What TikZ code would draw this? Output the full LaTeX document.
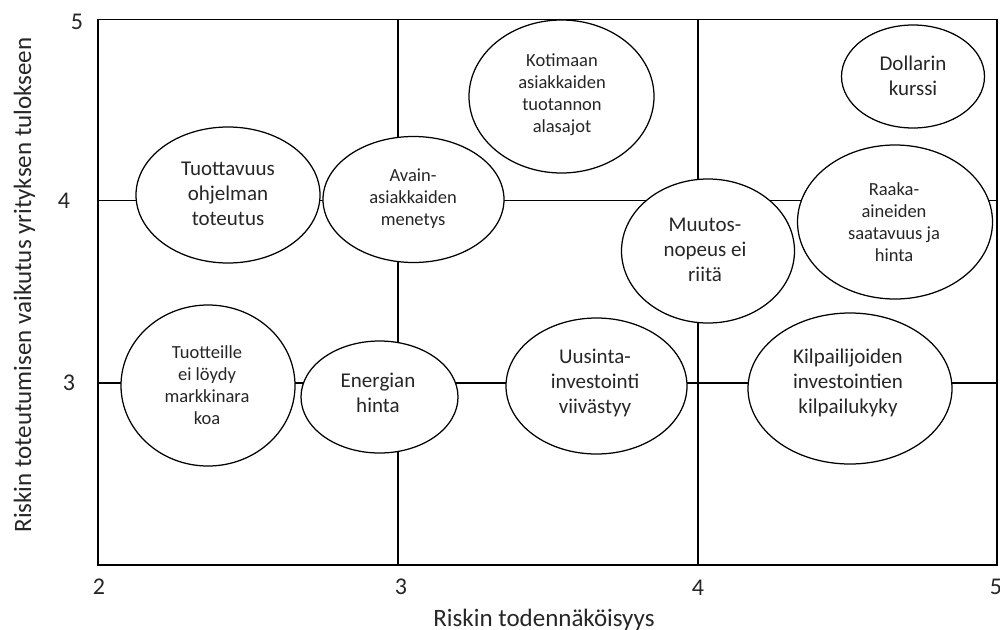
\documentclass[tikz,border=0pt]{standalone}
\usepackage{fontspec}
\setmainfont{Carlito}
\usetikzlibrary{shapes.geometric}
\begin{document}
\begin{tikzpicture}[x=1pt,y=-1pt,
  gridline/.style={line width=1.8pt, draw=black},
  risk/.style={ellipse, draw=black, line width=1.25pt, fill=white, inner sep=0pt, outer sep=0pt},
  bigtxt/.style={align=center, inner sep=0pt, font=\fontsize{21}{25}\selectfont, text=black!85},
  smalltxt/.style={align=center, inner sep=0pt, font=\fontsize{18.5}{22}\selectfont, text=black!85},
  ticklbl/.style={inner sep=0pt, font=\fontsize{24}{28}\selectfont, text=black!85},
  axislbl/.style={inner sep=0pt, font=\fontsize{25}{30}\selectfont, text=black!85}]
\useasboundingbox (0,0) rectangle (1000,629);
\fill[white] (0,0) rectangle (1000,629);

% grid frame and lines
\coordinate (tl) at (98,19.5);
\coordinate (br) at (997,565);
\draw[gridline] (tl) rectangle (br);
\coordinate (h4l) at (98,200.5);  \coordinate (h4r) at (997,200.5);
\coordinate (h3l) at (98,383);    \coordinate (h3r) at (997,383);
\coordinate (v3t) at (398,19.5);  \coordinate (v3b) at (398,565);
\coordinate (v4t) at (698,19.5);  \coordinate (v4b) at (698,565);
\draw[gridline] (h4l) -- (h4r);
\draw[gridline] (h3l) -- (h3r);
\draw[gridline] (v3t) -- (v3b);
\draw[gridline] (v4t) -- (v4b);

% tick labels
\node[ticklbl] (y5) at (77,22) {5};
\node[ticklbl] (y4) at (64,201) {4};
\node[ticklbl] (y3) at (69,383) {3};
\node[ticklbl] (x2) at (99,587) {2};
\node[ticklbl] (x3) at (401,587) {3};
\node[ticklbl] (x4) at (698,588) {4};
\node[ticklbl] (x5) at (996,587) {5};

% axis titles
\node[axislbl, anchor=base] (xt) at (544,626) {Riskin todennäköisyys};
\node[axislbl, anchor=base, rotate=90] (yt) at (31,285) {Riskin toteutumisen vaikutus yrityksen tulokseen};

% risk ellipses
\node[risk, minimum width=184pt, minimum height=136pt] (tuot) at (228,195) {};
\node[risk, minimum width=181pt, minimum height=126pt] (avain) at (413.5,199.5) {};
\node[risk, minimum width=185pt, minimum height=153pt] (koti) at (561.5,96.5) {};
\node[risk, minimum width=143pt, minimum height=103pt] (doll) at (913,76.5) {};
\node[risk, minimum width=195pt, minimum height=154pt] (raaka) at (895,222) {};
\node[risk, minimum width=173pt, minimum height=144pt] (muut) at (708,251) {};
\node[risk, minimum width=174pt, minimum height=161pt] (tuotteet) at (208,385.5) {};
\node[risk, minimum width=157pt, minimum height=112pt] (energ) at (379.5,397) {};
\node[risk, minimum width=181pt, minimum height=136pt] (uus) at (596.5,386) {};
\node[risk, minimum width=204pt, minimum height=151pt] (kilp) at (850,388.5) {};

% texts
\node[bigtxt] (tuot-t) at (228,194) {Tuottavuus\\ohjelman\\toteutus};
\node[smalltxt] (avain-t) at (413,199) {Avain-\\asiakkaiden\\menetys};
\node[smalltxt] (koti-t) at (562,95) {Kotimaan\\asiakkaiden\\tuotannon\\alasajot};
\node[bigtxt] (doll-t) at (913,76) {Dollarin\\kurssi};
\node[smalltxt] (raaka-t) at (894,222) {Raaka-\\aineiden\\saatavuus ja\\hinta};
\node[bigtxt] (muut-t) at (705,250) {Muutos-\\nopeus ei\\riitä};
\node[smalltxt] (tuotteet-t) at (207,385) {Tuotteille\\ei löydy\\markkinara\\koa};
\node[bigtxt] (energ-t) at (378,393) {Energian\\hinta};
\node[bigtxt] (uus-t) at (595,383) {Uusinta-\\investointi\\viivästyy};
\node[bigtxt] (kilp-t) at (848,383) {Kilpailijoiden\\investointien\\kilpailukyky};
\end{tikzpicture}
\end{document}
